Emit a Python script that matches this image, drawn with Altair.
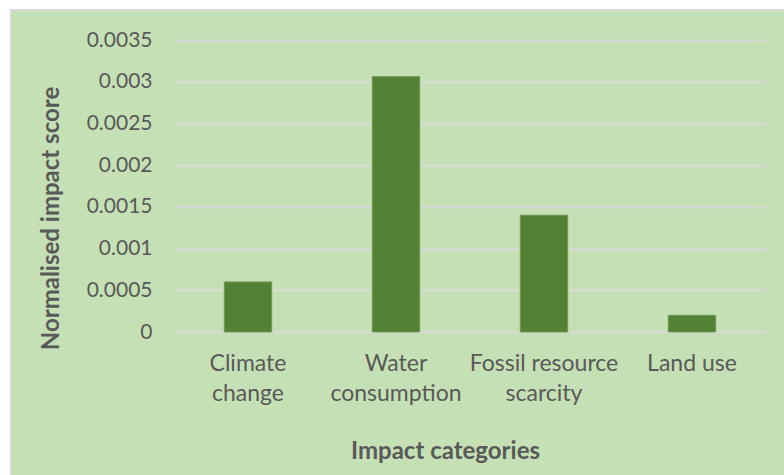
import json
import altair as alt
import pandas as pd

# Normalised impact scores per impact category
categories = ["Climate change", "Water consumption", "Fossil resource scarcity", "Land use"]
scores = [0.0006, 0.00306, 0.0014, 0.0002]

# Two-line tick labels for the category axis (a zero-width non-joiner keeps "t" and "i" apart)
label_lines = [["Climate", "change"], ["Water", "consump\u200ction"], ["Fossil resource", "scarcity"], ["Land use"]]
y_ticks = [0, 0.0005, 0.001, 0.0015, 0.002, 0.0025, 0.003, 0.0035]

FONT = "Lato"
TEXT = "#595959"
PANEL = "#c5e0b4"
BAR = "#548235"
GRID = "#d9d9d9"

df = pd.DataFrame({"category": categories, "score": scores})
label_map = json.dumps(dict(zip(categories, label_lines)))

bars = alt.Chart(df).mark_bar(color=BAR, stroke="#6e9a52", strokeWidth=1).encode(
    x=alt.X(
        "category:N",
        sort=categories,
        scale=alt.Scale(paddingInner=0.68, paddingOuter=0.34),
        axis=alt.Axis(
            title="Impact categories",
            labelExpr=f"{label_map}[datum.value]",
            labelAngle=0,
            labelFont=FONT,
            labelFontSize=23,
            labelColor=TEXT,
            labelLineHeight=30,
            labelPadding=20,
            ticks=False,
            domain=False,
            titleFont=FONT,
            titleFontSize=24,
            titleFontWeight="bold",
            titleColor=TEXT,
            titleX=271,
            titleY=126,
            titleAlign="center",
            titleBaseline="alphabetic",
        ),
    ),
    y=alt.Y(
        "score:Q",
        scale=alt.Scale(domain=[0, 0.0035], nice=False),
        axis=alt.Axis(
            title="Normalised impact score",
            values=y_ticks,
            format="~g",
            labelFont=FONT,
            labelFontSize=21,
            labelColor=TEXT,
            labelPadding=22,
            ticks=False,
            domain=False,
            grid=True,
            gridColor=GRID,
            gridWidth=2,
            titleFont=FONT,
            titleFontSize=24,
            titleFontWeight="bold",
            titleColor=TEXT,
            titleX=-116,
            titleY=178,
            titleBaseline="alphabetic",
        ),
    ),
)

# White margin and light frame around the chart panel
margin_top = alt.Chart(pd.DataFrame({"p": [0]})).mark_rect(color="white").encode(
    x=alt.value(-174), x2=alt.value(620), y=alt.value(-40), y2=alt.value(-30)
)
margin_left = alt.Chart(pd.DataFrame({"p": [0]})).mark_rect(color="white").encode(
    x=alt.value(-174), x2=alt.value(-163), y=alt.value(-40), y2=alt.value(440)
)
frame = alt.Chart(pd.DataFrame({"p": [0]})).mark_rect(
    fill=PANEL, fillOpacity=0, stroke=GRID, strokeWidth=2
).encode(x=alt.value(-163), x2=alt.value(700), y=alt.value(-30), y2=alt.value(600))

chart = (
    alt.layer(bars, margin_top, margin_left, frame)
    .properties(
        width=592,
        height=292,
        background=PANEL,
        padding={"left": 174, "top": 40, "right": 18, "bottom": 143},
        autosize=alt.AutoSizeParams(type="none"),
    )
    .configure_view(stroke=None)
)

chart.save("out.html", embed_options={"renderer": "svg", "actions": False})
